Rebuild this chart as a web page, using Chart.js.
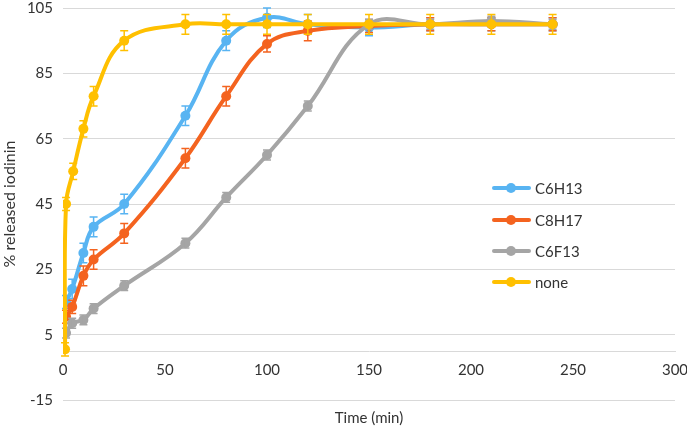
<!DOCTYPE html>
<html><head><meta charset="utf-8">
<script src="https://cdn.jsdelivr.net/npm/chart.js@4.4.1/dist/chart.umd.min.js"></script>
<style>html,body{margin:0;padding:0;background:#fff;}#wrap{width:687px;height:427px;}</style>
</head><body><div id="wrap"><canvas id="c" width="687" height="427"></canvas></div>
<script>
const seriesNames = ['C6H13', 'C8H17', 'C6F13', 'none'];
const seriesColors = ['#58b4f2', '#f4631f', '#a5a5a5', '#ffc000'];
const timeNone = [1, 1.5, 5, 10, 15, 30, 60, 80, 100, 120, 150, 180, 210, 240];
const timeMod = [1.5, 4.5, 10, 15, 30, 60, 80, 100, 120, 150, 180, 210, 240];
const c6h13 = [15, 19, 30, 38, 45, 72, 95, 102, 100, 99, 100, 100, 100];
const c6h13Err = [2, 3, 3, 3, 3, 3, 3, 3, 3, 2.5, 2, 2, 2];
const c8h17 = [10.5, 13.5, 23, 28, 36, 59, 78, 94, 98, 99.5, 100, 100, 100];
const c8h17Err = [2, 2, 3, 3, 3, 3, 3, 2.5, 3, 2, 2, 2, 2];
const c6f13 = [5.5, 8.5, 9.5, 13, 20, 33, 47, 60, 75, 100, 100, 101, 100];
const c6f13Err = [1.5, 1.5, 1.5, 1.5, 1.5, 1.5, 1.5, 1.5, 1.5, 1.5, 1.5, 1.5, 1.5];
const noneVals = [0.5, 45, 55, 68, 78, 95, 100, 100, 100, 100, 100, 100, 100, 100];
const noneErr = [2, 2, 2.5, 2.5, 3, 3, 3, 3, 3, 3, 3, 3, 3, 3];
const yTicks = [-15, 5, 25, 45, 65, 85, 105];
const xTicks = [0, 50, 100, 150, 200, 250, 300];

const FONT = 'Lato';
function pts(xs, ys) { return xs.map((x, i) => ({x: x, y: ys[i]})); }
const allVals = [c6h13, c8h17, c6f13, noneVals];
const allTimes = [timeMod, timeMod, timeMod, timeNone];
const allErrs = [c6h13Err, c8h17Err, c6f13Err, noneErr];
const drawOrder = [3, 2, 1, 0];

const datasets = seriesNames.map((n, i) => ({
  label: n,
  data: pts(allTimes[i], allVals[i]),
  errors: allErrs[i],
  borderColor: seriesColors[i],
  backgroundColor: seriesColors[i],
  borderWidth: 4,
  pointRadius: 5,
  pointBorderWidth: 0,
  pointHoverRadius: 5,
  tension: 0.4,
  showLine: true,
  fill: false,
  order: drawOrder[i]
}));

const errorBars = {
  id: 'errorBars',
  afterDatasetDraw(chart, args) {
    const ds = chart.data.datasets[args.index];
    const meta = args.meta;
    const ys = chart.scales.y;
    const ctx = chart.ctx;
    ctx.save();
    ctx.strokeStyle = ds.borderColor;
    ctx.lineWidth = 1.5;
    meta.data.forEach((pt, i) => {
      const v = ds.data[i].y, e = ds.errors[i];
      const top = ys.getPixelForValue(v + e), bot = ys.getPixelForValue(v - e);
      const x = pt.x, w = 4;
      ctx.beginPath();
      ctx.moveTo(x, top); ctx.lineTo(x, bot);
      ctx.moveTo(x - w, top); ctx.lineTo(x + w, top);
      ctx.moveTo(x - w, bot); ctx.lineTo(x + w, bot);
      ctx.stroke();
    });
    ctx.restore();
  }
};

const customLegend = {
  id: 'customLegend',
  afterDraw(chart) {
    const ctx = chart.ctx;
    const rows = [188, 220, 251, 282];
    ctx.save();
    ctx.font = '15px ' + FONT;
    ctx.textBaseline = 'middle';
    seriesNames.forEach((n, i) => {
      const y = rows[i];
      ctx.strokeStyle = seriesColors[i];
      ctx.lineWidth = 4;
      ctx.lineCap = 'round';
      ctx.beginPath(); ctx.moveTo(494, y); ctx.lineTo(529, y); ctx.stroke();
      ctx.fillStyle = seriesColors[i];
      ctx.beginPath(); ctx.arc(511, y, 5, 0, Math.PI * 2); ctx.fill();
      ctx.fillStyle = '#333';
      ctx.fillText(n, 535, y + 1);
    });
    ctx.restore();
  }
};

new Chart(document.getElementById('c'), {
  type: 'scatter',
  data: { datasets: datasets },
  plugins: [errorBars, customLegend],
  options: {
    responsive: false,
    animation: false,
    events: [],
    layout: { padding: { left: 0, right: 12, top: 8, bottom: 27 } },
    plugins: { legend: { display: false }, tooltip: { enabled: false } },
    scales: {
      x: {
        type: 'linear',
        position: { y: 0 },
        min: 0, max: 300,
        afterBuildTicks(s) { s.ticks = xTicks.map(v => ({value: v})); },
        afterFit(s) { s.paddingLeft = 0; s.paddingRight = 0; },
        grid: { display: false, drawTicks: false },
        border: { display: true, color: '#d9d9d9', width: 1 },
        ticks: { color: '#333', font: { family: FONT, size: 15 }, padding: 10, maxRotation: 0 },
        title: { display: true, text: 'Time (min)', color: '#333', font: { family: FONT, size: 15 }, padding: { top: 20, bottom: 0 } }
      },
      y: {
        type: 'linear',
        min: -15, max: 105,
        afterBuildTicks(s) { s.ticks = yTicks.map(v => ({value: v})); },
        afterFit(s) { s.width = 63; s.paddingTop = 0; s.paddingBottom = 0; },
        grid: { color: '#d9d9d9', lineWidth: 1, drawTicks: false },
        border: { display: false },
        ticks: { color: '#333', font: { family: FONT, size: 15 }, padding: 10 },
        title: { display: true, text: '% released iodinin', color: '#333', font: { family: FONT, size: 16 }, padding: { top: 0, bottom: 4 } }
      }
    }
  }
});
</script></body></html>
